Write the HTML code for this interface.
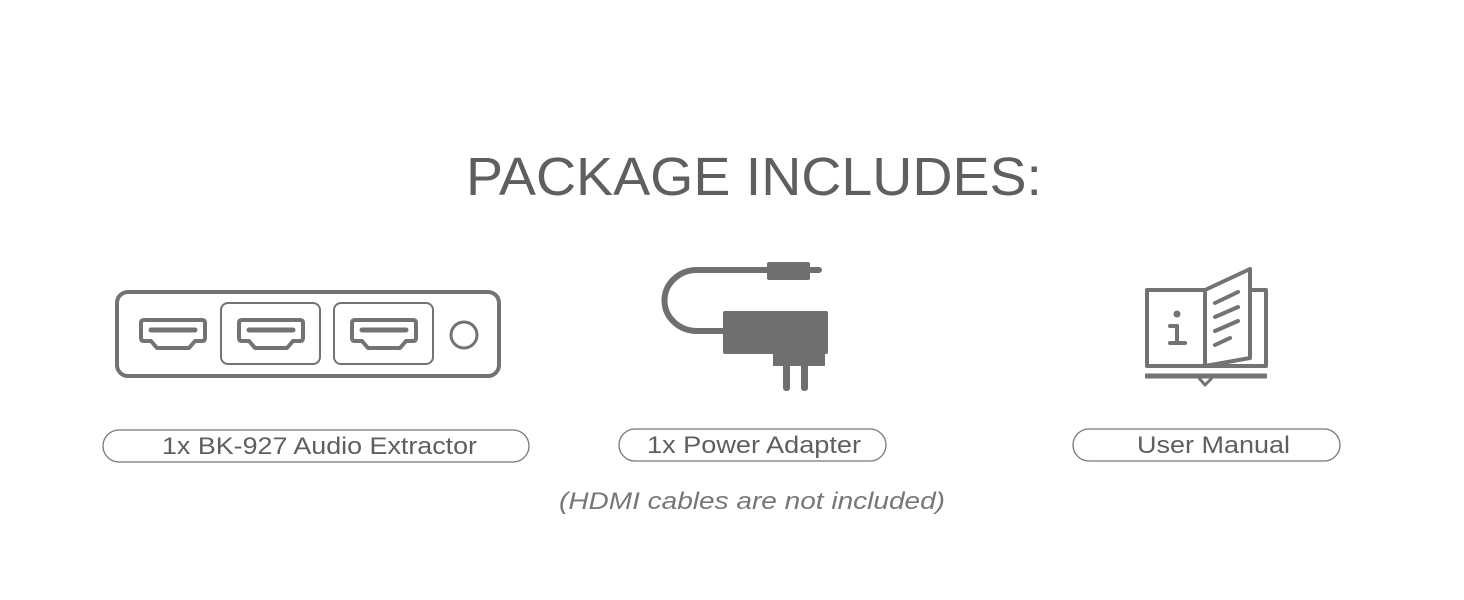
<!DOCTYPE html>
<html><head><meta charset="utf-8"><style>
html,body{margin:0;padding:0;background:#fff;}
svg{display:block;}
text{font-family:"Liberation Sans",sans-serif;fill:#5f5f5f;}
</style></head><body>
<svg width="1464" height="600" viewBox="0 0 1464 600" xmlns="http://www.w3.org/2000/svg">
<text x="466" y="195" font-size="54" textLength="576" lengthAdjust="spacingAndGlyphs">PACKAGE INCLUDES:</text>

<!-- extractor -->
<g fill="none" stroke="#737373">
<rect x="117" y="292" width="382" height="84" rx="11" stroke-width="4"/>
<rect x="221" y="303" width="99" height="61" rx="7" stroke-width="2"/>
<rect x="334" y="303" width="99" height="61" rx="7" stroke-width="2"/>
<circle cx="464" cy="335" r="13" stroke-width="3"/>
</g>
<g fill="none" stroke="#737373" stroke-width="4" stroke-linejoin="round">
<path d="M144 320 H202 Q205 320 205 323 V338 Q205 341 202 341 H195 L189 348 H157 L151 341 H144 Q141 341 141 338 V323 Q141 320 144 320 Z"/>
<path d="M242 320 H300 Q303 320 303 323 V338 Q303 341 300 341 H293 L287 348 H255 L249 341 H242 Q239 341 239 338 V323 Q239 320 242 320 Z"/>
<path d="M355 320 H413 Q416 320 416 323 V338 Q416 341 413 341 H406 L400 348 H368 L362 341 H355 Q352 341 352 338 V323 Q352 320 355 320 Z"/>
</g>
<g stroke="#737373" stroke-width="5" stroke-linecap="round">
<line x1="151" y1="330" x2="195" y2="330"/>
<line x1="249" y1="330" x2="293" y2="330"/>
<line x1="362" y1="330" x2="406" y2="330"/>
</g>

<!-- adapter -->
<g fill="#6f6f6f">
<path d="M770 270 H697 A32 30 0 0 0 697 331 H725" fill="none" stroke="#6f6f6f" stroke-width="6"/>
<rect x="767" y="262" width="43" height="18" rx="2"/>
<rect x="808" y="267" width="14" height="6" rx="3"/>
<rect x="723" y="311" width="105" height="43" rx="2"/>
<rect x="773" y="350" width="52" height="16"/>
<rect x="783" y="362" width="7" height="29" rx="3"/>
<rect x="801" y="362" width="7" height="29" rx="3"/>
</g>

<!-- book -->
<g fill="none" stroke="#737373" stroke-width="4" stroke-linejoin="round">
<path d="M1205 290 H1147 V366 H1205"/>
<path d="M1250 290 H1266 V366 H1205"/>
<path d="M1205 290 L1250 269 V358 L1205 366 Z"/>
<path d="M1145 376 H1267" stroke-width="5"/>
<path d="M1199 378 L1205 385 L1212 378" stroke-width="3"/>
</g>
<g stroke="#737373" stroke-width="4" stroke-linecap="round">
<line x1="1215" y1="303" x2="1238" y2="292"/>
<line x1="1215" y1="317" x2="1238" y2="307"/>
<line x1="1215" y1="331" x2="1238" y2="321"/>
<line x1="1215" y1="345" x2="1230" y2="338"/>
<line x1="1170" y1="326" x2="1177" y2="326"/>
<line x1="1177" y1="326" x2="1177" y2="343"/>
<line x1="1170" y1="343" x2="1185" y2="343"/>
</g>
<circle cx="1177" cy="314" r="3.5" fill="#737373"/>

<!-- labels -->
<g fill="none" stroke="#777" stroke-width="1.3">
<rect x="103" y="430" width="426" height="32" rx="16"/>
<rect x="619" y="429" width="267" height="32" rx="16"/>
<rect x="1073" y="429" width="267" height="32" rx="16"/>
</g>
<text x="162" y="454" font-size="24" textLength="315" lengthAdjust="spacingAndGlyphs">1x BK-927 Audio Extractor</text>
<text x="647" y="453" font-size="24" textLength="214" lengthAdjust="spacingAndGlyphs">1x Power Adapter</text>
<text x="1137" y="453" font-size="24" textLength="153" lengthAdjust="spacingAndGlyphs">User Manual</text>
<text x="559" y="509" font-size="24" font-style="italic" style="fill:#777" textLength="386" lengthAdjust="spacingAndGlyphs">(HDMI cables are not included)</text>
</svg>
</body></html>
